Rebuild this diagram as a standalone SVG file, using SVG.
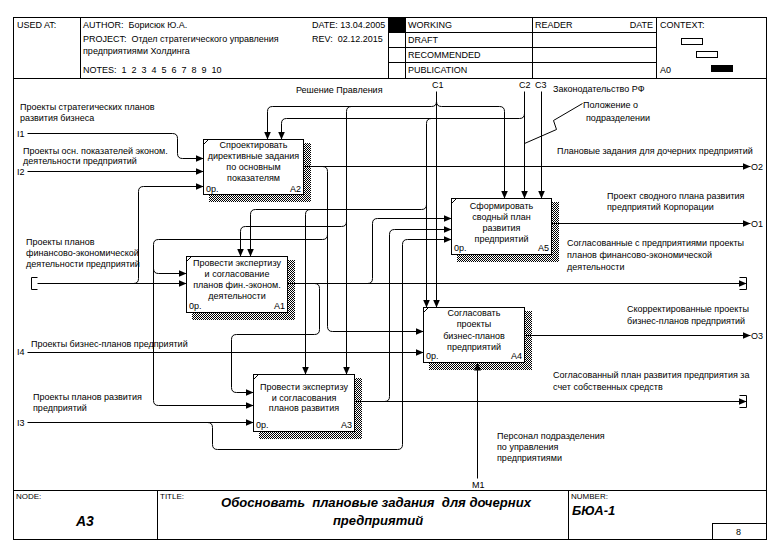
<svg xmlns="http://www.w3.org/2000/svg" width="780" height="552" viewBox="0 0 780 552">
<defs>
<style>
.t{font-family:"Liberation Sans",Arial,sans-serif;font-size:9px;fill:#000;white-space:pre}
.s{font-size:8px}
.m{text-anchor:middle}
.e{text-anchor:end}
.bi{font-weight:bold;font-style:italic}
.bx{fill:#fff;stroke:#000;stroke-width:1}
.ln{fill:none;stroke:#000;stroke-width:1}
.ar{marker-end:url(#ah)}
.sh{fill:url(#hatch)}
</style>
<pattern id="hatch" width="2" height="2" patternUnits="userSpaceOnUse">
<rect x="0" y="0" width="1" height="1" fill="#000"/>
<rect x="1" y="1" width="1" height="1" fill="#000"/>
</pattern>
<marker id="ah" markerWidth="8" markerHeight="7" refX="8" refY="3.5" orient="auto" markerUnits="userSpaceOnUse">
<path d="M0,0 L8,3.5 L0,7 z" fill="#000"/>
</marker>
</defs>
<rect x="0" y="0" width="780" height="552" fill="#fff"/>

<g id="frame">
<g transform="translate(0.5,0.5)">
<rect x="13" y="17" width="753" height="522" class="ln"/>
<line x1="13" y1="78" x2="766" y2="78" class="ln"/>
<line x1="80" y1="17" x2="80" y2="78" class="ln"/>
<line x1="388" y1="17" x2="388" y2="78" class="ln"/>
<line x1="405" y1="17" x2="405" y2="78" class="ln"/>
<line x1="532" y1="17" x2="532" y2="78" class="ln"/>
<line x1="656" y1="17" x2="656" y2="78" class="ln"/>
<line x1="388" y1="32" x2="656" y2="32" class="ln"/>
<line x1="388" y1="47" x2="656" y2="47" class="ln"/>
<line x1="388" y1="62" x2="656" y2="62" class="ln"/>
<rect x="681" y="38" width="21" height="6" class="ln"/>
<rect x="696" y="51" width="21" height="6" class="ln"/>
<line x1="13" y1="490" x2="766" y2="490" class="ln"/>
<line x1="157" y1="490" x2="157" y2="539" class="ln"/>
<line x1="568" y1="490" x2="568" y2="539" class="ln"/>
<rect x="712" y="523" width="54" height="16" class="ln"/>
</g>
<rect x="388" y="17" width="17" height="15" fill="#000"/>
<rect x="711" y="65" width="22" height="7" fill="#000"/>
<text class="t" x="17" y="28">USED AT:</text>
<text class="t" x="83" y="28">AUTHOR:  Борисюк Ю.А.</text>
<text class="t" x="312" y="28">DATE: 13.04.2005</text>
<text class="t" x="83" y="42">PROJECT:  Отдел стратегического управления</text>
<text class="t" x="312" y="42">REV:  02.12.2015</text>
<text class="t" x="83" y="54">предприятиями Холдинга</text>
<text class="t" x="83" y="73">NOTES:  1  2  3  4  5  6  7  8  9  10</text>
<text class="t" x="408" y="28">WORKING</text>
<text class="t" x="408" y="43">DRAFT</text>
<text class="t" x="408" y="58">RECOMMENDED</text>
<text class="t" x="408" y="73">PUBLICATION</text>
<text class="t" x="535" y="28">READER</text>
<text class="t e" x="653" y="28">DATE</text>
<text class="t" x="660" y="28">CONTEXT:</text>
<text class="t" x="660" y="73">A0</text>
<text class="t s" x="16" y="499">NODE:</text>
<text class="t s" x="160" y="499">TITLE:</text>
<text class="t s" x="571" y="499">NUMBER:</text>
<text class="t bi" x="76" y="526" style="font-size:14px">A3</text>
<text class="t bi m" x="376" y="507" style="font-size:13px" textLength="310" lengthAdjust="spacingAndGlyphs">Обосновать  плановые задания  для дочерних</text>
<text class="t bi m" x="378" y="525" style="font-size:13px">предприятий</text>
<text class="t bi" x="572" y="515" style="font-size:13px">БЮА-1</text>
<text class="t" x="736" y="535">8</text>
</g>

<g id="connectors">
<g transform="translate(0.5,0.5)">
<path class="ln ar" d="M436,91 V307"/>
<path class="ln ar" d="M436,101 Q436,106 431,106 H272 Q267,106 267,111 V139"/>
<path class="ln ar" d="M436,101 Q436,106 441,106 H499 Q504,106 504,111 V198"/>
<path class="ln ar" d="M351,106 Q346,106 346,111 V374"/>
<path class="ln ar" d="M346,221 Q346,226 341,226 H245 Q240,226 240,231 V256"/>
<path class="ln ar" d="M524,91 V198"/>
<path class="ln ar" d="M524,113 Q524,118 519,118 H286 Q281,118 281,123 V139"/>
<path class="ln ar" d="M431,118 Q426,118 426,123 V307"/>
<path class="ln ar" d="M426,204 Q426,209 421,209 H255 Q250,209 250,214 V256"/>
<path class="ln ar" d="M310,209 Q305,209 305,214 V374"/>
<path class="ln ar" d="M541,91 V198"/>
<path class="ln ar" d="M27,133 H172 Q177,133 177,138 V153 Q177,158 182,158 H203"/>
<path class="ln ar" d="M27,171 H203"/>
<path class="ln ar" d="M37,283 H186"/>
<path class="ln" d="M37,277 H31 V289 H37"/>
<path class="ln ar" d="M133,283 Q138,283 138,278 V191 Q138,186 143,186 H203"/>
<path class="ln ar" d="M303,166 H750"/>
<path class="ln ar" d="M322,166 Q327,166 327,171 V326 Q327,331 332,331 H423"/>
<path class="ln ar" d="M327,234 Q327,239 322,239 H158 Q153,239 153,244 V400 Q153,405 158,405 H253"/>
<path class="ln ar" d="M153,268 Q153,273 158,273 H186"/>
<path class="ln ar" d="M551,223 H750"/>
<path class="ln ar" d="M287,283 H746"/>
<path class="ln" d="M739,277 H746 V289 H739"/>
<path class="ln ar" d="M314,283 Q319,283 319,288 V329 Q319,334 314,334 H236 Q231,334 231,339 V387 Q231,392 236,392 H253"/>
<path class="ln ar" d="M367,283 Q372,283 372,278 V223 Q372,218 377,218 H451"/>
<path class="ln ar" d="M354,401 H746"/>
<path class="ln" d="M739,395 H746 V407 H739"/>
<path class="ln ar" d="M384,401 Q389,401 389,396 V234 Q389,229 394,229 H451"/>
<path class="ln ar" d="M27,422 H253"/>
<path class="ln ar" d="M207,422 Q212,422 212,427 V444 Q212,449 217,449 H397 Q402,449 402,444 V244 Q402,239 407,239 H451"/>
<path class="ln ar" d="M27,352 H423"/>
<path class="ln ar" d="M524,335 H750"/>
<path class="ln ar" d="M477,478 V362"/>
<path class="ln" d="M582,103 L553,120 L556,129 L524,143"/>
</g>
<text class="t" x="17" y="136.5">I1</text>
<text class="t" x="17" y="174.5">I2</text>
<text class="t" x="17" y="355">I4</text>
<text class="t" x="17" y="425.5">I3</text>
<text class="t" x="432" y="88">C1</text>
<text class="t" x="519" y="88">C2</text>
<text class="t" x="535" y="88">C3</text>
<text class="t" x="751" y="169.5">O2</text>
<text class="t" x="751" y="226.5">O1</text>
<text class="t" x="751" y="338.5">O3</text>
<text class="t" x="472" y="488">M1</text>
<text class="t" x="20" y="110">Проекты стратегических планов</text>
<text class="t" x="20" y="121">развития бизнеса</text>
<text class="t" x="23" y="154">Проекты осн. показателей эконом.</text>
<text class="t" x="23" y="164">деятельности предприятий</text>
<text class="t" x="26" y="245">Проекты планов</text>
<text class="t" x="26" y="256">финансово-экономической</text>
<text class="t" x="26" y="267">деятельности предприятий</text>
<text class="t" x="31" y="347">Проекты бизнес-планов предприятий</text>
<text class="t" x="33" y="400">Проекты планов развития</text>
<text class="t" x="33" y="411">предприятий</text>
<text class="t" x="296" y="93">Решение Правления</text>
<text class="t" x="553" y="92">Законодательство РФ</text>
<text class="t" x="583" y="108">Положение о</text>
<text class="t" x="586" y="121">подразделении</text>
<text class="t" x="557" y="154">Плановые задания для дочерних предприятий</text>
<text class="t" x="607" y="198.5">Проект сводного плана развития</text>
<text class="t" x="607" y="210">предприятий Корпорации</text>
<text class="t" x="567" y="246">Согласованные с предприятиями проекты</text>
<text class="t" x="567" y="258">планов финансово-экономической</text>
<text class="t" x="567" y="270">деятельности</text>
<text class="t" x="627" y="312">Скорректированные проекты</text>
<text class="t" x="627" y="324">бизнес-планов предприятий</text>
<text class="t" x="553" y="378">Согласованный план развития предприятия за</text>
<text class="t" x="553" y="390">счет собственных средств</text>
<text class="t" x="497" y="439">Персонал подразделения</text>
<text class="t" x="497" y="450">по управления</text>
<text class="t" x="497" y="461">предприятиями</text>
</g>

<g id="A2">
<rect x="209" y="143" width="102" height="59" class="sh"/>
<rect x="203.5" y="139.5" width="100" height="55" class="bx"/>
<line x1="203.5" y1="144.5" x2="208.5" y2="139.5" class="ln"/>
<text class="t m" x="253.5" y="147.5">Спроектировать</text>
<text class="t m" x="253.5" y="158.5">директивные задания</text>
<text class="t m" x="253.5" y="169.5">по основным</text>
<text class="t m" x="253.5" y="180.5">показателям</text>
<text class="t" x="206" y="191.5">0р.</text>
<text class="t e" x="301" y="191.5">A2</text>
</g>

<g id="A5">
<rect x="457" y="202" width="102" height="60" class="sh"/>
<rect x="451.5" y="198.5" width="100" height="56" class="bx"/>
<line x1="451.5" y1="203.5" x2="456.5" y2="198.5" class="ln"/>
<text class="t m" x="501.5" y="209">Сформировать</text>
<text class="t m" x="501.5" y="220">сводный план</text>
<text class="t m" x="501.5" y="231">развития</text>
<text class="t m" x="501.5" y="241.5">предприятий</text>
<text class="t" x="454" y="251">0р.</text>
<text class="t e" x="549" y="251">A5</text>
</g>

<g id="A1">
<rect x="192" y="260" width="103" height="60" class="sh"/>
<rect x="186.5" y="256.5" width="101" height="56" class="bx"/>
<line x1="186.5" y1="261.5" x2="191.5" y2="256.5" class="ln"/>
<text class="t m" x="237" y="265.5">Провести экспертизу</text>
<text class="t m" x="237" y="276.5">и согласование</text>
<text class="t m" x="237" y="288">планов фин.-эконом.</text>
<text class="t m" x="237" y="299">деятельности</text>
<text class="t" x="189" y="309">0р.</text>
<text class="t e" x="285" y="309">A1</text>
</g>

<g id="A4">
<rect x="429" y="311" width="103" height="59" class="sh"/>
<rect x="423.5" y="307.5" width="101" height="55" class="bx"/>
<line x1="423.5" y1="312.5" x2="428.5" y2="307.5" class="ln"/>
<text class="t m" x="474" y="316">Согласовать</text>
<text class="t m" x="474" y="327">проекты</text>
<text class="t m" x="474" y="338.5">бизнес-планов</text>
<text class="t m" x="474" y="349.5">предприятий</text>
<text class="t" x="426" y="359">0р.</text>
<text class="t e" x="522" y="359">A4</text>
</g>

<g id="A3">
<rect x="259" y="378" width="103" height="61" class="sh"/>
<rect x="253.5" y="374.5" width="101" height="57" class="bx"/>
<line x1="253.5" y1="379.5" x2="258.5" y2="374.5" class="ln"/>
<text class="t m" x="304" y="390">Провести экспертизу</text>
<text class="t m" x="304" y="400.5">и согласования</text>
<text class="t m" x="304" y="411">планов развития</text>
<text class="t" x="256" y="428">0р.</text>
<text class="t e" x="352" y="428">A3</text>
</g>
</svg>
